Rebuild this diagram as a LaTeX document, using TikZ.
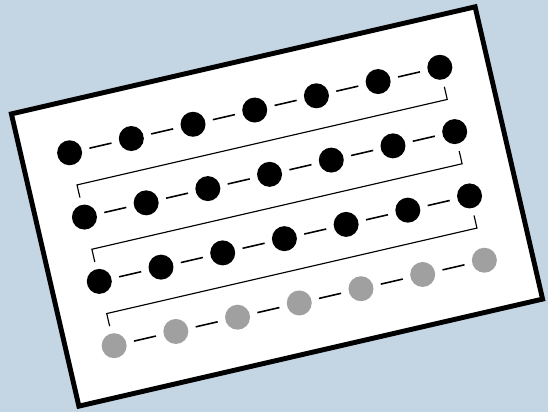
\documentclass[tikz,border=0pt]{standalone}
\usepackage{tikz}
\usetikzlibrary{calc}
\definecolor{cardBack}{HTML}{C4D5E3}
\definecolor{dotGray}{HTML}{A0A0A0}
\tikzset{
  cardbox/.style={draw=black, fill=white, line width=2.8pt, transform shape},
  bead/.style={circle, fill=black, inner sep=0pt, minimum size=0.5cm},
  graybead/.style={bead, fill=dotGray},
  beadlink/.style={line width=0.9pt, shorten <=0.15cm, shorten >=0.15cm},
  returnline/.style={line width=0.65pt}
}

\begin{document}
\begin{tikzpicture}[x=0.02cm, y=0.02cm]
    \fill[cardBack] (0,0) rectangle (548,412);
    \useasboundingbox (0,0) rectangle (548,412);

    \begin{scope}[shift={(277,205.5)}, rotate=13]
      \node[cardbox, minimum width=9.52cm, minimum height=6cm] (card) at (0,0) {};

      % four rows of seven beads
      \foreach \r/\y in {1/99, 2/33, 3/-33, 4/-99} {
        \foreach \c in {1,...,7} {
          \ifnum\r=4
            \node[graybead] (d\r\c) at ({-190+63.33*(\c-1)}, \y) {};
          \else
            \node[bead] (d\r\c) at ({-190+63.33*(\c-1)}, \y) {};
          \fi
        }
        \foreach \c [evaluate=\c as \n using int(\c+1)] in {1,...,6}
          \draw[beadlink] (d\r\c) -- (d\r\n);
      }

      % carriage returns from one row to the next
      \foreach \r [evaluate=\r as \s using int(\r+1)] in {1,2,3} {
        \coordinate (top\r) at ($(d\r7)!20/66!(d\s7)$);
        \coordinate (bot\r) at ($(d\s1)!20/66!(d\r1)$);
        \draw[returnline] (top\r) -- ($(d\r7)!0.5!(d\s7)$) -- ($(d\r1)!0.5!(d\s1)$) -- (bot\r);
      }
    \end{scope}
  \end{tikzpicture}
\end{document}
